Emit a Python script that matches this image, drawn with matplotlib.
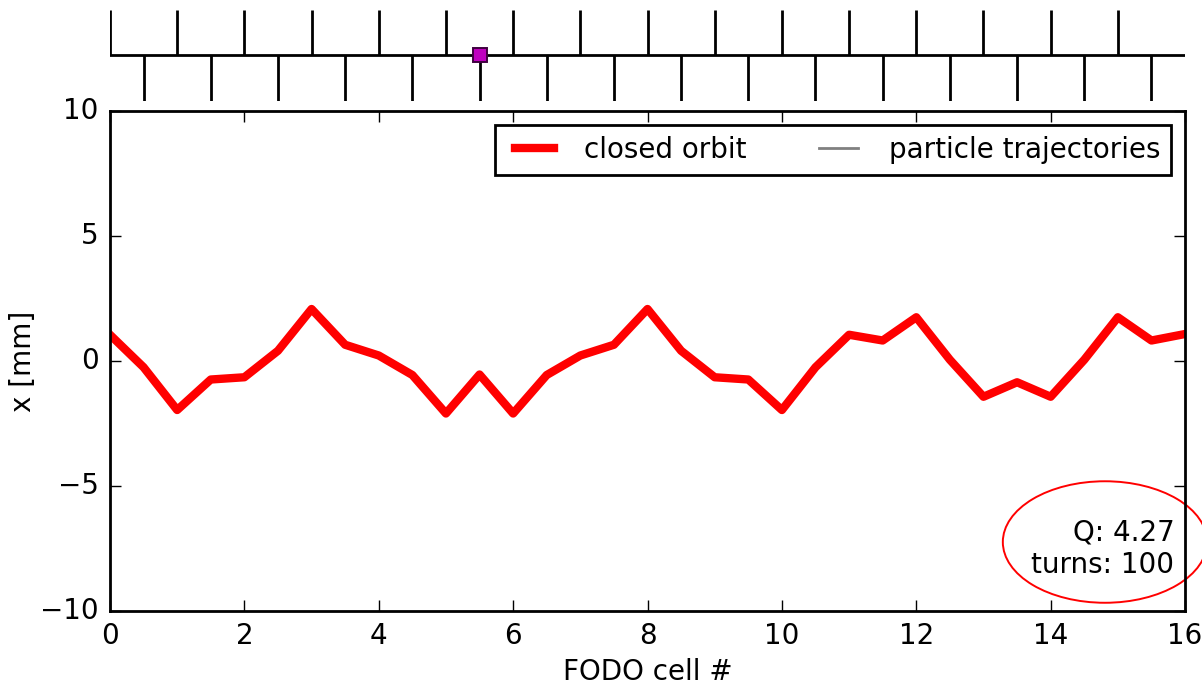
import numpy as np
import matplotlib
matplotlib.use('Agg')
import matplotlib.pyplot as plt
from matplotlib.patches import Ellipse

plt.style.use('classic')
plt.rcParams['font.family'] = ['DejaVu Sans']
plt.rcParams['font.size'] = 10

# closed orbit sampled at every quadrupole (FODO cell units)
cell_pos = np.arange(0, 16.01, 0.5)
orbit_x = [1.05, -0.25, -1.96, -0.74, -0.65, 0.41, 2.08, 0.65, 0.22, -0.56,
           -2.10, -0.54, -2.10, -0.56, 0.22, 0.65, 2.08, 0.41, -0.65, -0.74,
           -1.96, -0.25, 1.05, 0.82, 1.75, 0.05, -1.43, -0.85, -1.43, 0.05,
           1.75, 0.82, 1.08]

# lattice: focusing quads at integer positions, defocusing at half-integers
focus_quads = np.arange(0, 16, 1.0)
defocus_quads = np.arange(0.5, 16, 1.0)
bpm_pos = [5.5]

tune = 4.27
n_turns = 100

fig = plt.figure(figsize=(6.01, 3.43), dpi=200, facecolor='white')

ax = fig.add_axes([0.0915, 0.1093, 0.8944, 0.7289])
ax.plot(cell_pos, orbit_x, color='red', lw=3, label='closed orbit')
ax.plot([], [], color='gray', lw=1, label='particle trajectories')
ax.set_xlim(0, 16)
ax.set_ylim(-10, 10)
ax.set_xticks(np.arange(0, 17, 2))
ax.set_yticks([-10, -5, 0, 5, 10])
ax.set_xlabel('FODO cell #', fontsize=10, labelpad=3)
ax.set_ylabel('x [mm]', fontsize=10, labelpad=1)
ax.tick_params(labelsize=10)
ax.legend(loc='upper right', ncol=2, fontsize=10, fancybox=False,
          handlelength=2.0, columnspacing=2.3)

ax.text(0.99, 0.065, 'Q: %.2f\nturns: %d' % (tune, n_turns),
        transform=ax.transAxes, ha='right', va='bottom', fontsize=10,
        multialignment='right')
ax.add_patch(Ellipse((0.9255, 0.138), 0.19, 0.243, transform=ax.transAxes,
                     fill=False, edgecolor='red', lw=0.7, clip_on=False))

# lattice sketch above the orbit plot
lat = fig.add_axes([0.0915, 0.8528, 0.8944, 0.1327], sharex=ax)
lat.set_ylim(-1, 1)
lat.axis('off')
lat.plot([0, 16], [0, 0], color='black', lw=1)
lat.vlines(focus_quads, 0, 1, color='black', lw=1)
lat.vlines(defocus_quads, -1, 0, color='black', lw=1)
lat.plot(bpm_pos, [0] * len(bpm_pos), 's', color='m', markeredgecolor='#400040',
         markersize=5, markeredgewidth=0.7)

fig.savefig('out.png', dpi=200, facecolor='white')
